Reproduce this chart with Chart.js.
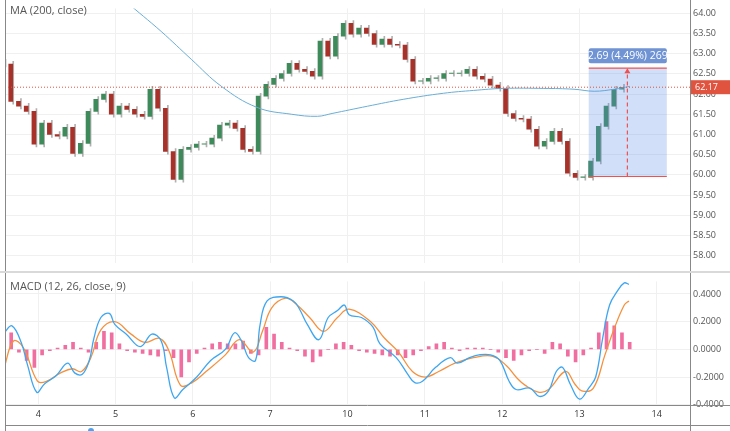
<!DOCTYPE html>
<html><head><meta charset="utf-8">
<script src="https://cdn.jsdelivr.net/npm/chart.js@4"></script>
<style>body{margin:0;background:#fff;width:730px;height:431px;overflow:hidden;font-family:'Open Sans',sans-serif}
.c{position:absolute;left:0}</style></head><body>
<div class="c" style="top:0;width:730px;height:271px"><canvas id="p"></canvas></div>
<div style="position:absolute;left:0;top:271px;width:730px;height:2px;background:#d9d9d9"></div>
<div class="c" style="top:273px;width:730px;height:158px"><canvas id="m"></canvas></div>
<script>
const dayLabels=['4','5','6','7','10','11','12','13','14'];
const priceStart=-0.43, priceStep=0.1;
const closes=[62.74,61.82,61.70,61.57,60.76,61.28,61.00,60.96,61.18,60.53,60.78,61.57,61.87,62.00,61.50,61.70,61.62,61.50,61.45,62.12,61.65,60.58,59.89,60.63,60.68,60.76,60.76,60.91,61.23,61.28,61.15,60.63,60.58,61.95,62.24,62.39,62.51,62.76,62.61,62.56,62.44,63.31,62.94,63.43,63.75,63.48,63.63,63.50,63.23,63.36,63.23,63.21,62.86,62.32,62.32,62.39,62.39,62.51,62.51,62.51,62.61,62.44,62.37,62.22,62.14,61.52,61.40,61.38,61.13,60.71,60.83,61.08,60.83,60.04,59.94,59.94,60.34,61.20,61.70,62.12,62.17];
const maT=[1.0,1.13,1.59,1.98,2.37,2.83,3.28,3.61,3.80,4.26,4.72,5.24,5.63,6.02,6.54,6.93,7.19,7.45,7.65];
const maV=[64.55,64.30,63.55,62.86,62.19,61.67,61.50,61.45,61.52,61.70,61.87,62.02,62.09,62.14,62.14,62.12,62.07,62.12,62.19];
const macdT=[-0.44,-0.34,-0.22,-0.14,-0.02,0.08,0.23,0.38,0.47,0.57,0.66,0.72,0.81,0.92,0.99,1.14,1.32,1.47,1.59,1.66,1.76,1.87,2.05,2.23,2.42,2.54,2.63,2.72,2.81,2.87,2.96,3.14,3.30,3.38,3.48,3.63,3.75,3.87,3.96,4.02,4.18,4.33,4.42,4.63,4.78,4.87,4.97,5.14,5.33,5.42,5.58,5.70,5.85,5.97,6.09,6.18,6.36,6.48,6.60,6.70,6.78,6.88,7.00,7.12,7.21,7.30,7.39,7.49,7.58,7.64];
const macdV=[0.12,0.17,0.05,-0.11,-0.31,-0.25,-0.19,-0.10,-0.17,-0.18,-0.08,0.08,0.23,0.26,0.18,0.11,0.02,0.11,0.06,-0.13,-0.35,-0.29,-0.20,-0.08,0.0,0.12,0.06,-0.06,-0.08,0.18,0.35,0.38,0.35,0.29,0.18,0.07,0.23,0.28,0.32,0.25,0.23,0.16,0.04,-0.06,-0.18,-0.24,-0.23,-0.13,-0.06,-0.10,-0.06,-0.04,-0.04,-0.08,-0.23,-0.29,-0.28,-0.34,-0.30,-0.16,-0.13,-0.25,-0.36,-0.28,-0.20,0.08,0.32,0.42,0.48,0.47];
const sigT=[-0.44,-0.32,-0.19,-0.01,0.11,0.29,0.44,0.56,0.68,0.81,0.99,1.20,1.38,1.57,1.69,1.84,1.99,2.17,2.42,2.60,2.78,2.90,3.02,3.20,3.33,3.51,3.69,3.87,4.02,4.30,4.48,4.66,4.84,5.00,5.18,5.39,5.63,5.88,6.06,6.18,6.30,6.48,6.60,6.82,6.94,7.03,7.18,7.33,7.45,7.58,7.64];
const sigV=[-0.13,0.06,0.01,-0.23,-0.23,-0.17,-0.14,-0.16,-0.06,0.14,0.20,0.11,0.05,0.08,-0.01,-0.26,-0.24,-0.16,-0.04,0.07,-0.02,0.13,0.30,0.37,0.33,0.23,0.13,0.23,0.29,0.20,0.08,-0.02,-0.16,-0.20,-0.16,-0.10,-0.06,-0.05,-0.12,-0.20,-0.26,-0.31,-0.29,-0.16,-0.25,-0.30,-0.28,-0.04,0.15,0.32,0.35];
const histStart=-0.45, histStep=0.1;
const histV=[0.22,0.12,-0.02,-0.08,-0.13,-0.04,-0.01,0.01,0.03,0.05,0.01,-0.02,0.05,0.13,0.12,0.04,-0.01,-0.02,-0.03,-0.04,-0.05,-0.01,-0.06,-0.2,-0.09,-0.03,0.01,0.04,0.05,0.04,0.04,0.06,-0.03,-0.04,0.16,0.11,0.05,0.01,-0.01,-0.05,-0.09,-0.05,0.0,0.04,0.05,0.03,-0.01,-0.02,-0.03,-0.04,-0.05,-0.04,-0.06,-0.04,-0.01,0.02,0.04,0.05,0.01,-0.01,0.01,0.01,0.01,0.0,-0.02,-0.06,-0.08,-0.04,-0.01,0.0,-0.03,0.05,0.04,-0.05,-0.09,-0.04,0.01,0.12,0.20,0.17,0.12,0.05];
const measure={t0:7.12,t1:8.13,tArrow:7.62,lo:59.96,hi:62.64,label:'2.69 (4.49%) 269'};
const lastPrice=62.17;

const candles=closes.map((c,i)=>{const o=i?closes[i-1]:c+0.05;return {x:priceStart+i*priceStep,o,c};});
const xMin=-0.43,xMax=8.43;
const gridC='#f0f0f0';
const fitY={afterFit(a){a.width=40;}};
const fmt2=v=>v.toFixed(2);

const overlay={id:'ov',afterDatasetsDraw(ch){
  const c=ch.ctx,x=ch.scales.x,y=ch.scales.y,a=ch.chartArea;
  c.save();
  c.font='11px "Open Sans"';c.fillStyle='#555';c.textBaseline='middle';c.fillText('MA (200, close)',10,11);
  const x0=x.getPixelForValue(measure.t0),x1=x.getPixelForValue(measure.t1),yh=y.getPixelForValue(measure.hi),yl=y.getPixelForValue(measure.lo);
  c.fillStyle='rgba(90,140,230,0.28)';c.fillRect(x0,yh,x1-x0,yl-yh);
  c.strokeStyle='#f05050';c.lineWidth=1.2;
  c.beginPath();c.moveTo(x0,yh);c.lineTo(x1,yh);c.moveTo(x0,yl);c.lineTo(x1,yl);c.stroke();
  const xa=x.getPixelForValue(measure.tArrow);
  c.setLineDash([4,3]);c.beginPath();c.moveTo(xa,yl);c.lineTo(xa,yh+4);c.stroke();c.setLineDash([]);
  c.fillStyle='#f05050';c.beginPath();c.moveTo(xa,yh);c.lineTo(xa-3,yh+5);c.lineTo(xa+3,yh+5);c.fill();
  c.fillStyle='#6f93d3';const lw=x1-x0;c.beginPath();c.roundRect(x0,yh-20,lw,15,2);c.fill();
  c.font='10.5px "Open Sans"';c.fillStyle='#fff';c.textAlign='center';c.fillText(measure.label,(x0+x1)/2,yh-12.5);
  const yp=y.getPixelForValue(lastPrice);
  c.strokeStyle='#e0533f';c.lineWidth=1;c.setLineDash([1,2]);c.beginPath();c.moveTo(a.left,yp);c.lineTo(a.right,yp);c.stroke();c.setLineDash([]);
  c.fillStyle='#e0533f';c.fillRect(a.right+1,yp-7,39,14);
  c.font='9px "Open Sans"';c.fillStyle='#fff';c.textAlign='left';c.fillText(lastPrice.toFixed(2),a.right+5,yp);
  c.strokeStyle='#888';c.beginPath();c.moveTo(a.left+0.5,0);c.lineTo(a.left+0.5,271);c.moveTo(a.right+0.5,0);c.lineTo(a.right+0.5,271);c.stroke();
  c.restore();
}};
new Chart(document.getElementById('p'),{
  data:{datasets:[
    {type:'bar',data:candles.map(k=>({x:k.x,y:[Math.min(k.o,k.c)-0.07,Math.max(k.o,k.c)+0.07]})),backgroundColor:'#b0b0b0',barThickness:1,order:3},
    {type:'bar',data:candles.map(k=>({x:k.x,y:[k.o,k.c===k.o?k.c+0.01:k.c]})),backgroundColor:candles.map(k=>k.c>=k.o?'#3f8a5a':'#a8322a'),barThickness:4,order:2},
    {type:'line',data:maT.map((t,i)=>({x:t,y:maV[i]})),borderColor:'#6aaed6',borderWidth:1,pointRadius:0,tension:0.4,order:1}
  ]},
  options:{animation:false,responsive:true,maintainAspectRatio:false,events:[],
    layout:{padding:{left:5,right:0,top:0,bottom:0}},
    plugins:{legend:{display:false},tooltip:{enabled:false}},
    scales:{
      x:{type:'linear',offset:false,min:xMin,max:xMax,ticks:{display:false,stepSize:1},grid:{color:gridC,drawTicks:false,offset:false},border:{display:false},afterFit(a){a.height=0;}},
      y:{position:'right',min:57.83,max:64.12,afterBuildTicks(a){a.ticks=[];for(let v=58;v<=64;v+=0.5)a.ticks.push({value:v});},
        ticks:{callback:fmt2,color:'#555',font:{size:9,family:'Open Sans'},padding:3},grid:{color:gridC,drawTicks:false},border:{display:false},...fitY}
    }},
  plugins:[overlay]
});
const ov2={id:'ov2',afterDatasetsDraw(ch){
  const c=ch.ctx,a=ch.chartArea;c.save();
  c.font='11px "Open Sans"';c.fillStyle='#555';c.textBaseline='middle';c.fillText('MACD (12, 26, close, 9)',10,14);
  c.strokeStyle='#888';c.beginPath();c.moveTo(a.left+0.5,0);c.lineTo(a.left+0.5,158);c.moveTo(a.right+0.5,0);c.lineTo(a.right+0.5,158);
  c.moveTo(a.left,a.bottom+0.5);c.lineTo(730,a.bottom+0.5);c.moveTo(a.left,152.5);c.lineTo(730,152.5);c.stroke();
  c.fillStyle='#4aa3f0';c.beginPath();c.arc(91,158,3,0,7);c.fill();
  c.restore();
}};
new Chart(document.getElementById('m'),{
  data:{datasets:[
    {type:'bar',data:histV.map((v,i)=>({x:histStart+i*histStep,y:v})),backgroundColor:'#f06fa0',barThickness:3,order:3},
    {type:'line',data:sigT.map((t,i)=>({x:t,y:sigV[i]})),borderColor:'#f5913e',borderWidth:1.3,pointRadius:0,tension:0.4,order:2},
    {type:'line',data:macdT.map((t,i)=>({x:t,y:macdV[i]})),borderColor:'#3ea6f0',borderWidth:1.3,pointRadius:0,tension:0.4,order:1}
  ]},
  options:{animation:false,responsive:true,maintainAspectRatio:false,events:[],
    layout:{padding:{left:5,right:0,top:0,bottom:6}},
    plugins:{legend:{display:false},tooltip:{enabled:false}},
    scales:{
      x:{type:'linear',offset:false,min:xMin,max:xMax,afterBuildTicks(a){a.ticks=dayLabels.map((_,i)=>({value:i}));},
        ticks:{callback:v=>dayLabels[v],color:'#333',font:{size:9,family:'Open Sans'},maxRotation:0,padding:4},grid:{color:gridC,drawTicks:false,offset:false},border:{display:false},afterFit(a){a.height=20;}},
      y:{position:'right',min:-0.402,max:0.491,afterBuildTicks(a){a.ticks=[-0.4,-0.2,0,0.2,0.4].map(v=>({value:v}));},
        ticks:{callback:v=>v.toFixed(4),color:'#555',font:{size:9,family:'Open Sans'},padding:3},grid:{color:gridC,drawTicks:false},border:{display:false},...fitY}
    }},
  plugins:[ov2]
});
</script></body></html>
